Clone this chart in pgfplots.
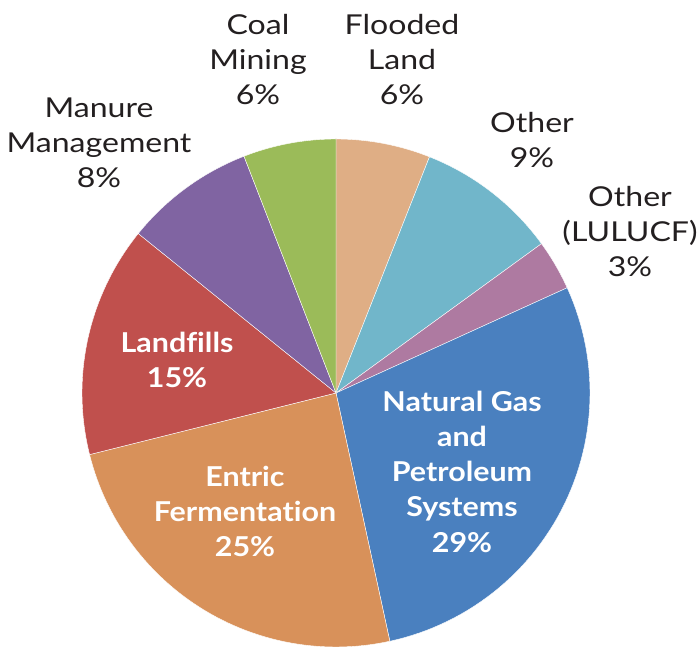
\documentclass[border=0pt]{standalone}
\usepackage{pgfplots}
\pgfplotsset{compat=1.18}
\usepgfplotslibrary{polar}
\usepackage{fontspec}
\setmainfont{Lato}[Ligatures=NoCommon, FakeStretch=1.17, BoldFeatures={FakeStretch=1.11}]
\definecolor{cFlood}{HTML}{DFAE85}
\definecolor{cOther}{HTML}{71B6CA}
\definecolor{cLulu}{HTML}{AE7AA1}
\definecolor{cNG}{HTML}{4A80BF}
\definecolor{cEnt}{HTML}{D8915A}
\definecolor{cLand}{HTML}{C0504D}
\definecolor{cMan}{HTML}{8064A2}
\definecolor{cCoal}{HTML}{9BBB59}
\definecolor{txt}{HTML}{231F20}
\begin{document}
\begin{tikzpicture}[x=1bp,y=1bp]
% shares in percent, clockwise from 12 o'clock:
% Flooded Land 6.0, Other 9.0, Other (LULUCF) 3.2, Natural Gas 28.4,
% Entric Fermentation 24.5, Landfills 14.7, Manure 8.3, Coal Mining 5.9
\begin{polaraxis}[at={(336bp,254bp)}, anchor=center, scale only axis,
  width=508bp, height=508bp, hide axis, xmin=0, xmax=360, ymin=0, ymax=1, clip=false]
\pgfplotsset{pie/.style={draw=white, line width=0.4pt, samples=60}}
\addplot[pie, fill=cFlood, domain=90-3.6*6.0:90-3.6*0] {1} -- (axis cs:0,0) -- cycle;
\addplot[pie, fill=cOther, domain=90-3.6*15.0:90-3.6*6.0] {1} -- (axis cs:0,0) -- cycle;
\addplot[pie, fill=cLulu, domain=90-3.6*18.2:90-3.6*15.0] {1} -- (axis cs:0,0) -- cycle;
\addplot[pie, fill=cNG, domain=90-3.6*46.6:90-3.6*18.2] {1} -- (axis cs:0,0) -- cycle;
\addplot[pie, fill=cEnt, domain=90-3.6*71.1:90-3.6*46.6] {1} -- (axis cs:0,0) -- cycle;
\addplot[pie, fill=cLand, domain=90-3.6*85.8:90-3.6*71.1] {1} -- (axis cs:0,0) -- cycle;
\addplot[pie, fill=cMan, domain=90-3.6*94.1:90-3.6*85.8] {1} -- (axis cs:0,0) -- cycle;
\addplot[pie, fill=cCoal, domain=90-3.6*100:90-3.6*94.1] {1} -- (axis cs:0,0) -- cycle;
\end{polaraxis}
\pgfresetboundingbox
\useasboundingbox (0,0) rectangle (697,647);
\tikzset{o/.style={anchor=base, inner sep=0pt, text=txt, font=\fontsize{27.5}{33}\selectfont},
         i/.style={anchor=base, inner sep=0pt, text=white, font=\fontsize{27.5}{33}\selectfont\bfseries}}
% outside labels
\node[o] at (258,647-35) {Coal};
\node[o] at (258,647-70) {Mining};
\node[o] at (258,647-105) {6\%};
\node[o] at (402,647-35) {Flooded};
\node[o] at (402,647-70) {Land};
\node[o] at (402,647-105) {6\%};
\node[o] at (532,647-133) {Other};
\node[o] at (532,647-168) {9\%};
\node[o] at (630,647-207) {Other};
\node[o] at (630,647-242) {(LULUCF)};
\node[o] at (630,647-277) {3\%};
\node[o] at (99,647-118) {Manure};
\node[o] at (99,647-153) {Management};
\node[o] at (99,647-188) {8\%};
% inside labels
\node[i] at (177,647-353) {Landfills};
\node[i] at (177,647-388) {15\%};
\node[i] at (245,647-487) {Entric};
\node[i] at (245,647-522) {Fermentation};
\node[i] at (245,647-557) {25\%};
\node[i] at (462,647-412) {Natural Gas};
\node[i] at (462,647-447) {and};
\node[i] at (462,647-482) {Petroleum};
\node[i] at (462,647-517) {Systems};
\node[i] at (462,647-553) {29\%};
\end{tikzpicture}
\end{document}
